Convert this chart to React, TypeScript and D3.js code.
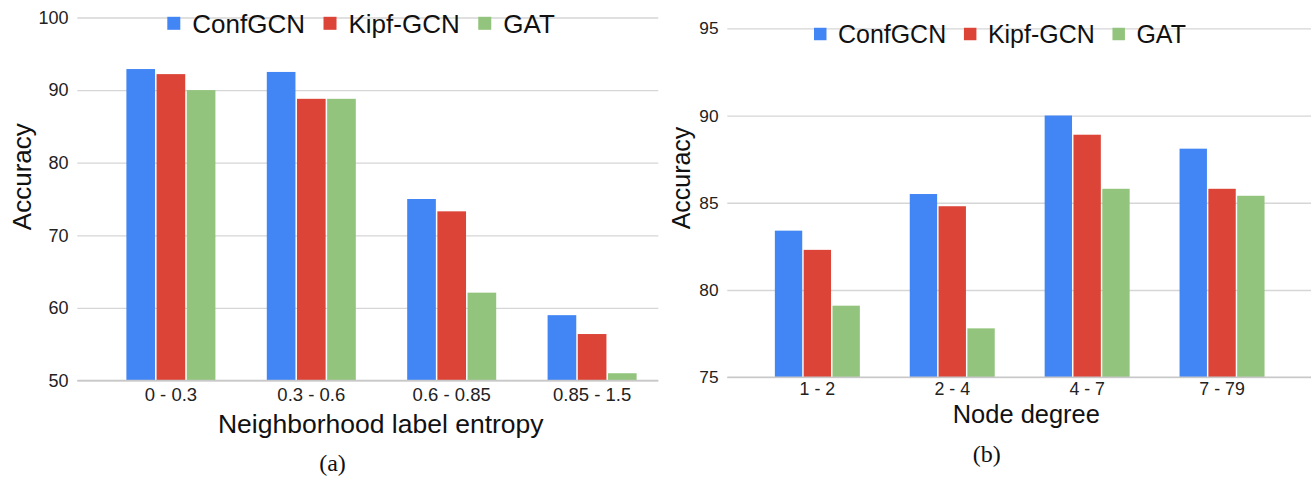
import { useEffect, useRef } from 'react'
import * as d3 from 'd3'

const seriesNames = ['ConfGCN', 'Kipf-GCN', 'GAT']
const seriesColors = ['#4285f4', '#db4437', '#93c47d']

// (a) neighborhood label entropy
const entropyBins = ['0 - 0.3', '0.3 - 0.6', '0.6 - 0.85', '0.85 - 1.5']
const entropyConfGCN = [92.9, 92.5, 75.0, 59.0]
const entropyKipfGCN = [92.2, 88.8, 73.3, 56.4]
const entropyGAT = [90.0, 88.8, 62.1, 51.0]
const entropyTicks = [50, 60, 70, 80, 90, 100]

// (b) node degree
const degreeBins = ['1 - 2', '2 - 4', '4 - 7', '7 - 79']
const degreeConfGCN = [83.4, 85.5, 90.0, 88.1]
const degreeKipfGCN = [82.3, 84.8, 88.9, 85.8]
const degreeGAT = [79.1, 77.8, 85.8, 85.4]
const degreeTicks = [75, 80, 85, 90, 95]

const FONT = '"Liberation Sans", Arial, Helvetica, sans-serif'
const SERIF = '"Liberation Serif", "DejaVu Serif", serif'

const W = 1311
const H = 478

type Panel = {
    bins: string[]
    values: number[][]
    ticks: number[]
    xTitle: string
    caption: string
    s: number
    yBottom: number
    yTop: number
    xRange: [number, number]
    padIn: number
    gridLeft: number
    gridRight: number
    labelRight: number
    tickPad: number
    legendX: number
    legendY: number
    yTitleX: number
    yTitleY: number
    xTitleX: number
    xTitleY: number
    captionX: number
    captionY: number
}

const panels: Panel[] = [
    {
        bins: entropyBins,
        values: [entropyConfGCN, entropyKipfGCN, entropyGAT],
        ticks: entropyTicks,
        xTitle: 'Neighborhood label entropy',
        caption: '(a)',
        s: 1,
        yBottom: 380.5,
        yTop: 17.5,
        xRange: [100.7, 662.3],
        padIn: 0.366,
        gridLeft: 77.3,
        gridRight: 658.3,
        labelRight: 68.5,
        tickPad: 7.5,
        legendX: 167.3,
        legendY: 23.3,
        yTitleX: 31,
        yTitleY: 176.7,
        xTitleX: 380.8,
        xTitleY: 433.3,
        captionX: 332.5,
        captionY: 471,
    },
    {
        bins: degreeBins,
        values: [degreeConfGCN, degreeKipfGCN, degreeGAT],
        ticks: degreeTicks,
        xTitle: 'Node degree',
        caption: '(b)',
        s: 0.96,
        yBottom: 377.2,
        yTop: 28.3,
        xRange: [749.9, 1289.5],
        padIn: 0.37,
        gridLeft: 727.3,
        gridRight: 1311,
        labelRight: 718.5,
        tickPad: 5.5,
        legendX: 814,
        legendY: 34,
        yTitleX: 690,
        yTitleY: 178,
        xTitleX: 1026.3,
        xTitleY: 422.7,
        captionX: 986.7,
        captionY: 462,
    },
]

const drawPanel = (svg: d3.Selection<SVGSVGElement, unknown, null, undefined>, p: Panel) => {
    const g = svg.append('g')

    const y = d3.scaleLinear().domain([p.ticks[0], p.ticks[p.ticks.length - 1]]).range([p.yBottom, p.yTop])
    const x0 = d3.scaleBand().domain(p.bins).range(p.xRange).paddingInner(p.padIn).paddingOuter(p.padIn / 2)
    const x1 = d3.scaleBand().domain(seriesNames).range([0, x0.bandwidth()]).paddingInner(0.05)
    const color = d3.scaleOrdinal<string, string>().domain(seriesNames).range(seriesColors)

    // gridlines + y tick labels
    g.append('g')
        .attr('transform', `translate(${p.gridLeft},0)`)
        .call(
            d3.axisLeft(y)
                .tickValues(p.ticks)
                .tickSize(-(p.gridRight - p.gridLeft))
                .tickPadding(p.gridLeft - p.labelRight)
        )
        .call(a => a.select('.domain').remove())
        .call(a => a.selectAll('line').attr('stroke', '#d6d6d6').attr('stroke-width', 1.3))
        .call(a =>
            a.selectAll('text')
                .attr('font-family', FONT)
                .attr('font-size', 18 * p.s)
                .attr('fill', '#222')
        )

    // bars
    g.append('g')
        .selectAll('g')
        .data(p.bins)
        .join('g')
        .attr('transform', d => `translate(${x0(d)},0)`)
        .selectAll('rect')
        .data((_, i) => seriesNames.map((name, j) => ({ name, v: p.values[j][i] })))
        .join('rect')
        .attr('x', d => x1(d.name)!)
        .attr('y', d => y(d.v))
        .attr('width', x1.bandwidth())
        .attr('height', d => y(p.ticks[0]) - y(d.v))
        .attr('fill', d => color(d.name))

    // baseline
    g.append('line')
        .attr('x1', p.gridLeft)
        .attr('x2', p.gridRight)
        .attr('y1', y(p.ticks[0]))
        .attr('y2', y(p.ticks[0]))
        .attr('stroke', '#c8c8c8')
        .attr('stroke-width', 1.5)

    // x labels
    g.append('g')
        .attr('transform', `translate(0,${p.yBottom})`)
        .call(d3.axisBottom(x0).tickSize(0).tickPadding(p.tickPad))
        .call(a => a.select('.domain').remove())
        .call(a =>
            a.selectAll('text')
                .attr('font-family', FONT)
                .attr('font-size', 18.5 * p.s)
                .attr('fill', '#222')
        )

    // legend
    const leg = g.append('g')
    let lx = p.legendX
    seriesNames.forEach(name => {
        const sq = 13 * p.s
        leg.append('rect')
            .attr('x', lx)
            .attr('y', p.legendY - sq / 2)
            .attr('width', sq)
            .attr('height', sq)
            .attr('fill', color(name))
        const t = leg.append('text')
            .attr('x', lx + 25 * p.s)
            .attr('y', p.legendY + 9.2 * p.s)
            .attr('font-family', FONT)
            .attr('font-size', 26 * p.s)
            .attr('fill', '#111')
            .text(name)
        const w = (t.node() as SVGTextElement).getComputedTextLength()
        lx = lx + 25 * p.s + w + 18.5 * p.s
    })

    // axis titles
    g.append('text')
        .attr('transform', `translate(${p.yTitleX},${p.yTitleY}) rotate(-90)`)
        .attr('text-anchor', 'middle')
        .attr('font-family', FONT)
        .attr('font-size', 26 * p.s)
        .attr('fill', '#111')
        .text('Accuracy')

    g.append('text')
        .attr('x', p.xTitleX)
        .attr('y', p.xTitleY)
        .attr('text-anchor', 'middle')
        .attr('font-family', FONT)
        .attr('font-size', 26.5 * p.s)
        .attr('fill', '#111')
        .text(p.xTitle)

    g.append('text')
        .attr('x', p.captionX)
        .attr('y', p.captionY)
        .attr('text-anchor', 'middle')
        .attr('font-family', SERIF)
        .attr('font-size', 24)
        .attr('fill', '#111')
        .text(p.caption)
}

const App = () => {
    const ref = useRef<SVGSVGElement | null>(null)

    useEffect(() => {
        if (!ref.current) return
        const svg = d3.select(ref.current)
        svg.selectAll('*').remove()
        svg.append('rect').attr('width', W).attr('height', H).attr('fill', '#fff')
        panels.forEach(p => drawPanel(svg, p))
    }, [])

    return (
        <svg
            ref={ref}
            width={W}
            height={H}
            style={{ position: 'absolute', left: 0, top: 0 }}
        ></svg>
    )
}

export default App
